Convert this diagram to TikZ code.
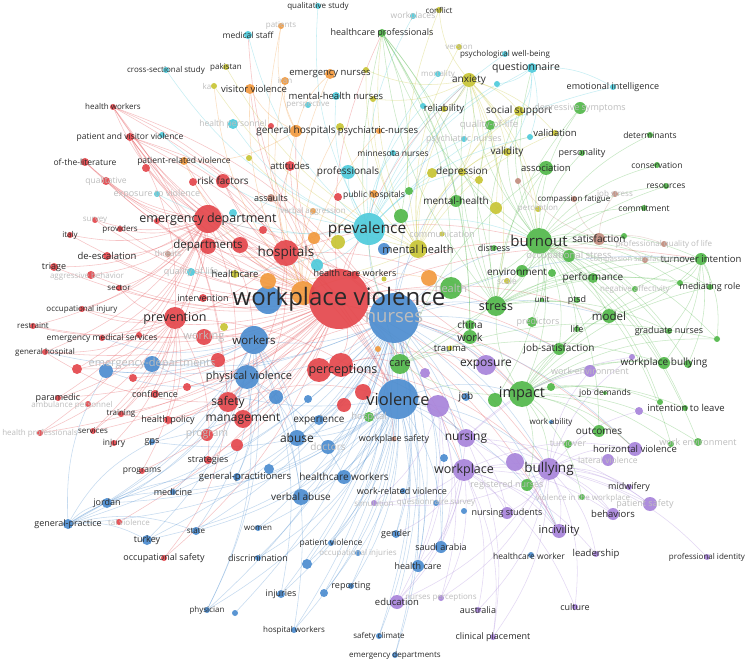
\documentclass[tikz,border=0pt]{standalone}
\usepackage{fontspec}
\setmainfont{Open Sans}
\pgfdeclarelayer{bg}
\pgfdeclarelayer{edges}
\pgfdeclarelayer{labels}
\pgfsetlayers{bg,edges,main,labels}
\definecolor{cR}{HTML}{E4474C}
\definecolor{cG}{HTML}{52B84A}
\definecolor{cB}{HTML}{4C8DD0}
\definecolor{cY}{HTML}{C8C535}
\definecolor{cP}{HTML}{A884DB}
\definecolor{cC}{HTML}{4FCBDC}
\definecolor{cO}{HTML}{F29A3E}
\definecolor{cN}{HTML}{C28D7E}
\definecolor{lblc}{HTML}{2A2A2A}
\definecolor{fadc}{HTML}{BDBDBD}
\tikzset{
  dot/.style={circle,inner sep=0pt,draw=none,fill opacity=0.92},
  lbl/.style={inner sep=0pt,text=lblc},
  fad/.style={inner sep=0pt,text=fadc},
  edg/.style={line width=0.55pt,draw opacity=0.32},
  eR/.style={edg,draw=cR},
  eG/.style={edg,draw=cG},
  eB/.style={edg,draw=cB},
  eY/.style={edg,draw=cY},
  eP/.style={edg,draw=cP},
  eC/.style={edg,draw=cC},
  eO/.style={edg,draw=cO},
  eN/.style={edg,draw=cN},
}
\newcommand\Dn[5]{\node[dot,fill=#5,minimum size={#4*2pt}] (#1) at (#2,#3) {};}
\newcommand\Ln[5]{\begin{pgfonlayer}{labels}\node[lbl,font=\fontsize{#4}{#4}\selectfont] (#1) at (#2,#3) {#5};\end{pgfonlayer}}
\newcommand\Fn[5]{\begin{pgfonlayer}{labels}\node[fad,font=\fontsize{#4}{#4}\selectfont] (#1) at (#2,#3) {#5};\end{pgfonlayer}}
\newcommand\Vn[7]{\Dn{#1}{#2}{#3}{#4}{#5}\Ln{#1l}{#2}{#3}{#6}{#7}}
\newcommand\Un[7]{\Dn{#1}{#2}{#3}{#4}{#5}\Fn{#1l}{#2}{#3}{#6}{#7}}
\begin{document}
\begin{tikzpicture}[x=1pt,y=-1pt]
\useasboundingbox (0,0) rectangle (753,663);
\begin{pgfonlayer}{bg}
\fill[white] (0,0) rectangle (753,663);
\end{pgfonlayer}
% ---------- big nodes
\Un{nurses}{394}{318}{25}{cB}{18.5}{nurses}
\Vn{violence}{398}{399}{20}{cB}{16.5}{violence}
\Dn{bwp}{268}{300}{14}{cB}
\Vn{workers}{254}{340}{14}{cB}{11.5}{workers}
\Dn{o4}{303}{293}{12}{cO}
\Dn{o3}{268}{281}{8}{cO}
\Vn{wv}{339}{299}{30}{cR}{24}{workplace violence}
% ---------- red
\Vn{edpt}{208}{219}{14}{cR}{12.5}{emergency department}
\Vn{hosp}{286}{253}{13}{cR}{13.5}{hospitals}
\Vn{prevn}{175}{318}{11}{cR}{12.5}{prevention}
\Vn{depts}{208}{246}{8}{cR}{11.5}{departments}
\Dn{r1}{240}{245}{8}{cR}
\Dn{r2}{193}{182}{4}{cR}
\Vn{risk}{223}{181}{7}{cR}{10}{risk factors}
\Vn{attit}{290}{166}{5}{cR}{9.5}{attitudes}
\Vn{hw}{113}{107}{3}{cR}{8}{health workers}
\Vn{pvv}{130}{137}{4}{cR}{8.5}{patient and visitor violence}
\Vn{otl}{85}{162}{4}{cR}{8.5}{of-the-literature}
\Dn{r3}{146}{168}{4}{cR}
\Un{qual}{106}{181}{4}{cR}{8.5}{qualitative}
\Un{surv}{95}{220}{3}{cR}{8}{survey}
\Dn{r4}{157}{221}{3}{cR}
\Vn{prov}{120}{229}{3}{cR}{8}{providers}
\Vn{italy}{70}{235}{3}{cR}{8}{italy}
\Vn{deesc}{107}{256}{4}{cR}{9.5}{de-escalation}
\Vn{triage}{54}{267}{4}{cR}{9}{triage}
\Dn{aggr}{91}{275}{4}{cR}\Fn{aggrl}{87}{276}{8}{aggressive behavior}
\Vn{sector}{119}{288}{3}{cR}{8}{sector}
\Vn{interv}{203}{298}{4}{cR}{9}{intervention}
\Vn{occinj}{82}{309}{3}{cR}{8}{occupational injury}
\Vn{restr}{33}{326}{3}{cR}{8}{restraint}
\Vn{ems}{102}{338}{3}{cR}{8.5}{emergency medical services}
\Dn{r5}{139}{335}{3}{cR}
\Vn{genh}{45}{352}{3}{cR}{8}{general hospital}
\Dn{r6}{77}{369}{5}{cR}
\Dn{r7}{133}{378}{4}{cR}
\Un{working}{204}{337}{8}{cR}{11}{working}
\Dn{r8}{218}{360}{7}{cR}
\Dn{r9}{187}{387}{4}{cR}
\Vn{conf}{155}{394}{4}{cR}{9}{confidence}
\Vn{param}{58}{398}{3}{cR}{9}{paramedic}
\Dn{ambp}{88}{404}{3}{cR}\Fn{ambpl}{72}{405}{8}{ambulance personnel}
\Vn{safety}{228}{402}{10}{cR}{12}{safety}
\Vn{training}{121}{414}{3}{cR}{8}{training}
\Vn{hpol}{168}{420}{4}{cR}{9}{health policy}
\Vn{mgmt}{243}{419}{9}{cR}{12}{management}
\Un{hprof}{40}{433}{3}{cR}{8}{health professionals}
\Vn{serv}{93}{431}{3}{cR}{8}{services}
\Un{prog}{207}{435}{6}{cR}{10.5}{program}
\Vn{injury}{114}{443}{3}{cR}{8.5}{injury}
\Dn{r10}{237}{445}{6}{cR}
\Vn{strat}{208}{460}{4}{cR}{9}{strategies}
\Vn{programs}{142}{471}{3}{cR}{8.5}{programs}
\Vn{occsaf}{164}{558}{3}{cR}{9}{occupational safety}
\Dn{r11}{119}{522}{3}{cR}\Fn{r11l}{129}{522}{8}{tal violence}
\Dn{perc1}{319}{370}{12}{cR}
\Dn{perc}{341}{365}{12}{cR}\Ln{percl}{343}{370}{12.5}{perceptions}
\Dn{r12}{363}{392}{8}{cR}
\Dn{r13}{344}{405}{7}{cR}
\Vn{wsafe}{394}{439}{2.5}{cN}{9}{workplace safety}
\Dn{r14}{263}{230}{4}{cR}
\Dn{hcwr}{355}{275}{4}{cR}\Ln{hcwrl}{355}{273}{9}{health care workers}
\Dn{r15}{271}{126}{3}{cR}
\Dn{r16}{338}{197}{4}{cR}
% ---------- orange
\Un{patients}{281}{26}{3}{cO}{8}{patients}
\Un{iran}{285}{81}{4}{cO}{8}{iran}
\Vn{emnurses}{330}{74}{5}{cO}{9.5}{emergency nurses}
\Dn{visv}{250}{89}{5}{cO}\Ln{visvl}{254}{89}{9.5}{visitor violence}
\Vn{genhosp}{296}{131}{6}{cO}{10}{general hospitals}
\Dn{o1}{379}{131}{3}{cO}
\Vn{prv}{184}{161}{4}{cO}{8.5}{patient-related violence}
\Dn{pubho}{374}{194}{4}{cO}\Ln{pubhol}{374}{195}{8.5}{public hospitals}
\Un{verbagg}{313}{211}{3}{cO}{8}{verbal aggression}
\Dn{o2}{314}{238}{6}{cO}
\Dn{o5}{429}{278}{8}{cO}
\Dn{o6}{378}{349}{3}{cO}
% ---------- cyan
\Vn{qstudy}{318}{6}{3}{cC}{8}{qualitative study}
\Un{workpl}{413}{16}{3}{cC}{8.5}{workplaces}
\Vn{medstaff}{248}{35}{4}{cC}{8.5}{medical staff}
\Dn{psychwb}{505}{54}{3}{cC}\Ln{psychwbl}{505}{54}{8}{psychological well-being}
\Dn{questionnaire}{532}{68}{5}{cC}\Ln{questl}{526}{68}{10.5}{questionnaire}
\Vn{cross}{166}{70}{3}{cC}{8}{cross-sectional study}
\Un{mortality}{438}{74}{3}{cC}{8}{mortality}
\Dn{c1}{497}{84}{3}{cC}
\Vn{emoint}{613}{87}{3}{cC}{9}{emotional intelligence}
\Vn{mhnurses}{336}{96}{4}{cC}{9.5}{mental-health nurses}
\Un{persp}{308}{105}{3}{cC}{8}{perspective}
\Dn{c2}{423}{106}{3}{cC}
\Un{hpers}{233}{124}{5}{cC}{8.5}{health personnel}
\Dn{c3}{162}{135}{3}{cC}
\Un{psychn2}{464}{139}{3}{cC}{9}{psychiatric nurses}
\Dn{c4}{530}{137}{3}{cC}
\Vn{minn}{393}{153}{3}{cC}{8.5}{minnesota nurses}
\Vn{prof}{348}{172}{7}{cC}{10}{professionals}
\Un{expv}{157}{194}{3}{cC}{9}{exposure to violence}
\Dn{c5}{233}{213}{4}{cC}
\Un{qolc}{191}{272}{4}{cC}{9}{quality of life}
\Dn{preval}{369}{229}{16}{cC}\Ln{prevall}{367}{229}{15.5}{prevalence}
\Dn{c6}{317}{265}{6}{cC}
% ---------- yellow
\Vn{conflict}{439}{10}{3}{cY}{8}{conflict}
\Un{version}{459}{47}{3}{cY}{8}{version}
\Dn{y1}{366}{70}{3}{cY}
\Dn{y2}{373}{99}{3}{cY}
\Vn{anxiety}{469}{80}{7}{cY}{10}{anxiety}
\Vn{reliab}{444}{109}{3}{cY}{9.5}{reliability}
\Vn{socsup}{519}{111}{5}{cY}{10}{social support}
\Vn{validity}{507}{152}{4}{cY}{10}{validity}
\Vn{valid}{555}{133}{3}{cY}{9.5}{validation}
\Vn{pakistan}{226}{67}{3}{cY}{8}{pakistan}
\Dn{ka}{214}{86}{3}{cY}\Fn{kal}{207}{87}{8}{ka}
\Dn{psychny}{340}{127}{4}{cY}\Ln{psychnl}{378}{131}{9.5}{psychiatric-nurses}
\Dn{y3}{432}{173}{5}{cY}
\Vn{depression}{462}{172}{4}{cY}{10}{depression}
\Dn{y4}{479}{180}{4}{cY}
\Dn{y5}{496}{208}{6}{cY}
\Un{percpt}{538}{209}{3}{cY}{8}{perception}
\Vn{mhy}{418}{249}{9}{cY}{11}{mental health}
\Dn{y6}{338}{242}{7}{cY}
\Vn{healthcare}{235}{274}{4}{cY}{9.5}{healthcare}
\Dn{y7}{224}{327}{4}{cY}
\Dn{y8}{384}{279}{2.5}{cY}
\Vn{trauma}{450}{348}{2.5}{cY}{9.5}{trauma}
\Dn{y9}{249}{158}{3}{cY}
\Un{scale}{507}{281}{3}{cY}{8.5}{scale}
\Un{comm}{442}{234}{2.5}{cY}{9}{communication}
% ---------- green
\Vn{hcp}{382}{33}{4}{cG}{9}{healthcare professionals}
\Un{depsym}{580}{108}{6}{cG}{9}{depressive symptoms}
\Dn{g1}{490}{125}{5}{cG}\Fn{qoll}{489}{125}{9.5}{quality-of-life}
\Vn{determ}{650}{135}{3}{cG}{8.5}{determinants}
\Vn{pers}{582}{153}{3}{cG}{9}{personality}
\Vn{cons}{657}{165}{3}{cG}{8.5}{conservation}
\Vn{assoc}{546}{168}{7}{cG}{9.5}{association}
\Vn{resources}{666}{186}{3}{cG}{8.5}{resources}
\Vn{commit}{644}{208}{3}{cG}{8.5}{commitment}
\Dn{g2}{409}{191}{4}{cG}
\Vn{mhg}{456}{201}{6}{cG}{10}{mental-health}
\Dn{g3}{401}{216}{7}{cG}
\Vn{burnout}{539}{241}{13}{cG}{15}{burnout}
\Dn{g4}{624}{236}{3}{cG}
\Un{occstr}{569}{256}{6}{cG}{9.5}{occupational stress}
\Vn{turnint}{701}{259}{6}{cG}{9.5}{turnover intention}
\Dn{env}{522}{271}{6}{cG}\Ln{envl}{517}{272}{10}{environment}
\Dn{g5}{552}{273}{4}{cG}
\Un{health}{451}{288}{11}{cG}{11}{health}
\Vn{perf}{593}{278}{5}{cG}{10}{performance}
\Dn{g6}{680}{283}{3}{cG}
\Vn{medrole}{710}{287}{3}{cG}{9}{mediating role}
\Un{negaff}{635}{289}{3}{cG}{8}{negative affectivity}
\Vn{distress}{494}{248}{3}{cG}{9}{distress}
\Vn{unit}{542}{300}{2}{cG}{8}{unit}
\Vn{ptsd}{577}{300}{3}{cG}{9}{ptsd}
\Vn{stress}{496}{306}{10}{cG}{12.5}{stress}
\Vn{china}{470}{325}{5}{cG}{10}{china}
\Vn{work}{470}{337}{7}{cG}{11}{work}
\Dn{pred}{532}{322}{5}{cG}\Fn{predl}{538}{322}{9}{predictors}
\Vn{model}{609}{316}{7}{cG}{11.5}{model}
\Vn{life}{577}{329}{3}{cG}{9}{life}
\Vn{gradn}{669}{331}{3}{cG}{9}{graduate nurses}
\Dn{g7}{717}{339}{3}{cG}
\Vn{jobsat}{559}{349}{6}{cG}{10}{job-satisfaction}
\Vn{care}{400}{364}{10}{cG}{11}{care}
\Vn{wbully}{664}{363}{6}{cG}{10}{workplace bullying}
\Dn{g8}{688}{364}{4}{cG}
\Vn{impact}{522}{394}{13}{cG}{14.5}{impact}
\Dn{g9}{551}{387}{4}{cG}
\Dn{g10}{495}{400}{7}{cG}
\Vn{jobdem}{605}{393}{2}{cG}{8.5}{job demands}
\Dn{g11}{660}{402}{3}{cG}
\Dn{itlg}{685}{408}{3}{cG}
\Vn{outc}{599}{431}{6}{cG}{10}{outcomes}
\Un{wenvb}{698}{442}{4}{cG}{9}{work environment}
\Dn{g12}{671}{444}{3}{cG}
\Un{turnover}{568}{444}{4}{cG}{9}{turnover}
\Dn{regn}{527}{485}{6}{cG}\Fn{regnl}{507}{485}{9}{registered nurses}
\Dn{viw}{582}{497}{3}{cG}\Fn{viwl}{583}{498}{8}{violence in the workplace}
\Un{hospital}{369}{417}{5}{cG}{9.5}{hospital}
% ---------- blue
\Dn{b1}{276}{397}{7}{cB}
\Dn{b2}{308}{399}{4}{cB}
\Dn{physv}{247}{377}{12}{cB}\Ln{physvl}{249}{377}{11}{physical violence}
\Vn{exper}{319}{420}{5}{cB}{10}{experience}
\Vn{abuse}{297}{438}{8}{cB}{12}{abuse}
\Un{doctors}{328}{447}{7}{cB}{10}{doctors}
\Vn{hcws}{344}{477}{7}{cB}{10}{healthcare workers}
\Dn{b3}{269}{469}{5}{cB}
\Vn{verbal}{301}{497}{8}{cB}{10}{verbal abuse}
\Dn{gpr}{237}{477}{4}{cB}\Ln{gprl}{245}{477}{9.5}{general-practitioners}
\Vn{gps}{152}{442}{3}{cB}{9}{gps}
\Vn{medicine}{173}{492}{3}{cB}{9}{medicine}
\Vn{jordan}{107}{503}{5}{cB}{9}{jordan}
\Vn{genprac}{68}{524}{5}{cB}{9}{general-practice}
\Vn{turkey}{147}{540}{5}{cB}{9}{turkey}
\Vn{state}{196}{531}{4}{cB}{8}{state}
\Vn{women}{258}{528}{3}{cB}{8}{women}
\Vn{discr}{258}{558}{3}{cB}{9}{discrimination}
\Vn{patv}{331}{543}{3}{cB}{8.5}{patient violence}
\Dn{b4}{307}{564}{5}{cB}
\Un{occinjs}{358}{553}{3}{cB}{8}{occupational injuries}
\Vn{gender}{396}{534}{4}{cB}{9}{gender}
\Vn{saudi}{441}{547}{6}{cB}{9}{saudi arabia}
\Vn{hcare}{418}{566}{6}{cB}{9}{health care}
\Vn{injuries}{281}{594}{4}{cB}{9}{injuries}
\Dn{b5}{324}{593}{4}{cB}
\Vn{report}{351}{586}{3}{cB}{9}{reporting}
\Vn{hospw}{294}{630}{3}{cB}{8}{hospital workers}
\Vn{safclim}{379}{636}{3}{cB}{8}{safety climate}
\Vn{emdepts}{395}{655}{3}{cB}{8}{emergency departments}
\Vn{physician}{207}{610}{3}{cB}{8}{physician}
\Dn{b6}{235}{613}{3}{cB}
\Un{qsurv}{436}{503}{3}{cB}{8}{questionnaire survey}
\Dn{b7}{464}{511}{3}{cB}
\Dn{hcwk}{531}{555}{3}{cB}\Ln{hcwkl}{529}{556}{8.5}{healthcare worker}
\Vn{workab}{551}{422}{2}{cB}{8}{work ability}
\Vn{job}{466}{397}{4}{cB}{10}{job}
\Dn{b8}{444}{458}{4}{cB}
\Dn{eda}{106}{371}{7}{cB}
\Dn{edb}{152}{364}{8}{cB}\Fn{edbl}{152}{364}{11}{emergency-departments}
\Dn{b9}{384}{249}{6}{cB}
\Dn{b10}{403}{491}{3}{cB}\Ln{b10l}{402}{491}{9}{work-related violence}
% ---------- purple
\Vn{exposure}{486}{365}{10}{cP}{12}{exposure}
\Dn{p1}{425}{373}{5}{cP}
\Dn{p2}{438}{406}{11}{cP}
\Vn{nursing}{466}{438}{9}{cP}{12}{nursing}
\Vn{workplace}{464}{470}{11}{cP}{12.5}{workplace}
\Dn{p3}{515}{462}{9}{cP}
\Vn{bullying}{549}{469}{11}{cP}{13.5}{bullying}
\Vn{hv}{635}{449}{7}{cP}{9.5}{horizontal violence}
\Un{latv}{608}{460}{6}{cP}{8.5}{lateral violence}
\Un{wenv}{590}{371}{6}{cP}{9}{work-environment}
\Dn{p4}{632}{357}{3}{cP}
\Dn{itl}{639}{411}{4}{cP}\Ln{itll}{686}{408}{9.5}{intention to leave}
\Vn{midw}{629}{487}{3}{cP}{9}{midwifery}
\Dn{patsaf}{650}{504}{7}{cP}\Fn{patsafl}{645}{504}{9}{patient safety}
\Vn{nstud}{507}{513}{6}{cP}{9}{nursing students}
\Vn{behav}{613}{514}{6}{cP}{9.5}{behaviors}
\Vn{incv}{559}{531}{7}{cP}{11}{incivility}
\Vn{leader}{596}{554}{3}{cP}{9.5}{leadership}
\Vn{profid}{707}{557}{3}{cP}{8}{professional identity}
\Vn{culture}{575}{607}{3}{cP}{9}{culture}
\Vn{clinpl}{493}{637}{3}{cP}{9}{clinical placement}
\Vn{educ}{397}{602}{7}{cP}{9.5}{education}
\Un{nperc}{441}{598}{3}{cP}{8}{nurses perceptions}
\Vn{austr}{478}{610}{3}{cP}{9}{australia}
\Un{simul}{374}{503}{3}{cP}{8}{simulation}
% ---------- brown
\Vn{assaults}{271}{198}{4}{cN}{9}{assaults}
\Un{threats}{168}{254}{3}{cN}{8}{threats}
\Vn{compfat}{574}{199}{3}{cN}{8}{compassion fatigue}
\Un{jobstr}{615}{194}{3}{cN}{8}{job stress}
\Dn{n1}{518}{181}{3}{cN}
\Vn{sat}{599}{239}{6}{cN}{10}{satisfaction}
\Un{pqol}{664}{244}{3}{cN}{8}{professional quality of life}
\Dn{compsat}{645}{260}{3}{cN}\Fn{compsatl}{632}{260}{7.5}{compassion satisfaction}
% ---------- edges
\begin{pgfonlayer}{edges}
\foreach \t in {edpt,hosp,depts,risk,attit,hw,pvv,otl,qual,surv,prov,italy,deesc,triage,aggr,sector,interv,occinj,restr,ems,genh,r6,working,safety,mgmt,conf,param,training,hpol,hprof,serv,prog,injury,strat,programs,occsaf,perc,burnout,stress,care,nursing,impact,workplace,bullying,genhosp,visv,prv,expv,wsafe,medstaff,hcp,preval,anxiety,model,jobsat,hv,incv,turnint,r3,r1,r2,r4,r5,r7,r9,r10,r11}
  \draw[eR] (wv) to[bend left=14] (\t);
\foreach \t in {triage,deesc,italy,prov,restr,ems,genh,param,training,qual,otl,pvv,hw,safety,prevn,violence,nurses,workers,r6,surv,aggr,sector,occinj,hprof,serv}
  \draw[eR] (edpt) to[bend left=16] (\t);
\foreach \t in {pvv,otl,risk,safety,mgmt,violence,nurses,preval,burnout,hw,attit,ems,qual,depts,stress,impact}
  \draw[eR] (hosp) to[bend left=16] (\t);
\foreach \t in {training,serv,injury,hprof,programs,occinj,sector,param,violence,nurses,r6,restr,genh,strat,hpol,conf}
  \draw[eR] (prevn) to[bend left=16] (\t);
\foreach \t in {violence,nurses,mgmt,training,genh,occsaf}
  \draw[eR] (safety) to[bend left=16] (\t);
\foreach \t in {violence,nurses,care,exposure,nursing,bullying}
  \draw[eR] (perc) to[bend left=16] (\t);
\foreach \t in {hosp,safety,violence,nurses,prevn}
  \draw[eR] (pvv) to[bend left=16] (\t);
\foreach \t in {hosp,violence,nurses,safety}
  \draw[eR] (hw) to[bend left=16] (\t);
\foreach \t in {burnout,stress,impact,bullying,workplace,nursing,exposure,violence,workers,physv,abuse,verbal,hcws,genprac,jordan,turkey,medicine,gps,gender,saudi,hcare,educ,report,injuries,discr,women,state,patv,hospw,safclim,emdepts,hv,incv,jobsat,model,turnint,anxiety,depression,preval,mhy,care,qsurv,physician,eda,edb,gpr,exper,doctors,b3,b4,b5,b6}
  \draw[eB] (nurses) to[bend left=14] (\t);
\foreach \t in {genprac,jordan,turkey,state,gender,saudi,hcare,safclim,emdepts,injuries,hospw,patv,discr,physician,edb,verbal,abuse,medicine,gps,hcws,women,report,occinjs,b4,b5,bullying,impact,nursing,workplace,incv}
  \draw[eB] (violence) to[bend left=16] (\t);
\foreach \t in {eda,edb,genprac,jordan,gps,medicine,turkey,physician,hospw,injuries,verbal,abuse,gpr,state,ems,genh}
  \draw[eB] (workers) to[bend left=16] (\t);
\foreach \t in {eda,genprac,jordan,verbal,abuse,gpr,hcws,physician}
  \draw[eB] (physv) to[bend left=16] (\t);
\foreach \t in {gpr,jordan,gps,medicine,turkey,state,eda}
  \draw[eB] (genprac) to[bend left=16] (\t);
\foreach \t in {stress,impact,turnint,medrole,resources,commit,sat,perf,model,gradn,jobsat,wbully,anxiety,depression,socsup,hcp,determ,pers,cons,depsym,occstr,env,outc,wenvb,itlg,health,care,questionnaire,g1,assoc,g6,g7,g8,g10,g11,g12,negaff,ptsd,unit,life,pred,validity}
  \draw[eG] (burnout) to[bend left=16] (\t);
\foreach \t in {wbully,itlg,wenvb,turnint,medrole,gradn,model,outc,hv,bullying,jobdem,workab,regn,viw,g7,g8,g11,g12,g6,jobsat,care,stress}
  \draw[eG] (impact) to[bend left=16] (\t);
\foreach \t in {anxiety,depression,socsup,g1,turnint,gradn,hcp,assoc,depsym,resources,commit,g6,medrole,model,perf}
  \draw[eG] (stress) to[bend left=16] (\t);
\foreach \t in {hcp,assoc,turnint,wbully,g7}
  \draw[eG] (care) to[bend left=16] (\t);
\foreach \t in {mhg,health,g3,stress,work,china}
  \draw[eG] (hcp) to[bend left=16] (\t);
\foreach \t in {wbully,medrole,gradn,g7,g8,model,g6}
  \draw[eG] (turnint) to[bend left=16] (\t);
\foreach \t in {incv,behav,leader,nstud,educ,clinpl,austr,culture,midw,patsaf,hv,latv,profid,simul,nperc,wenv,itl,regn,p4}
  \draw[eP] (bullying) to[bend left=16] (\t);
\foreach \t in {incv,behav,nstud,educ,clinpl,austr,culture,midw,patsaf,leader,simul,nperc,gender,hcare,hv}
  \draw[eP] (workplace) to[bend left=16] (\t);
\foreach \t in {incv,nstud,educ,clinpl,behav,patsaf,p4,wenv}
  \draw[eP] (nursing) to[bend left=16] (\t);
\foreach \t in {educ,simul,nperc,hcare,saudi,incv}
  \draw[eP] (p2) to[bend left=16] (\t);
\foreach \t in {psychny,y3,reliab,validity,valid,socsup,conflict,version,y1,y2,pakistan,ka,healthcare,anxiety,depression,hcp,y9}
  \draw[eY] (mhy) to[bend left=16] (\t);
\foreach \t in {depression,reliab,validity,valid,socsup,y1,y2,y4,y5,conflict,percpt,stress,burnout}
  \draw[eY] (anxiety) to[bend left=16] (\t);
\foreach \t in {validity,socsup,y5,valid}
  \draw[eY] (depression) to[bend left=16] (\t);
\foreach \t in {cross,medstaff,qstudy,mhnurses,prof,questionnaire,psychwb,emoint,expv,hpers,qolc,minn,psychn2,mortality,workpl,c1,c2,c3,c4,c5,c6,anxiety,depression,burnout}
  \draw[eC] (preval) to[bend left=16] (\t);
\foreach \t in {c4,emoint,c1,socsup,validity}
  \draw[eC] (questionnaire) to[bend left=16] (\t);
\foreach \t in {visv,emnurses,genhosp,prv,patients,iran,o1,pubho,verbagg,o2,o3,o5,psychny,ka}
  \draw[eO] (o4) to[bend left=16] (\t);
\foreach \t in {visv,emnurses,patients,iran,prv}
  \draw[eO] (genhosp) to[bend left=16] (\t);
\foreach \t in {compfat,jobstr,pqol,compsat,n1,burnout}
  \draw[eN] (sat) to[bend left=16] (\t);
\foreach \t in {threats,wv}
  \draw[eN] (assaults) to[bend left=16] (\t);
\end{pgfonlayer}
\end{tikzpicture}
\end{document}
